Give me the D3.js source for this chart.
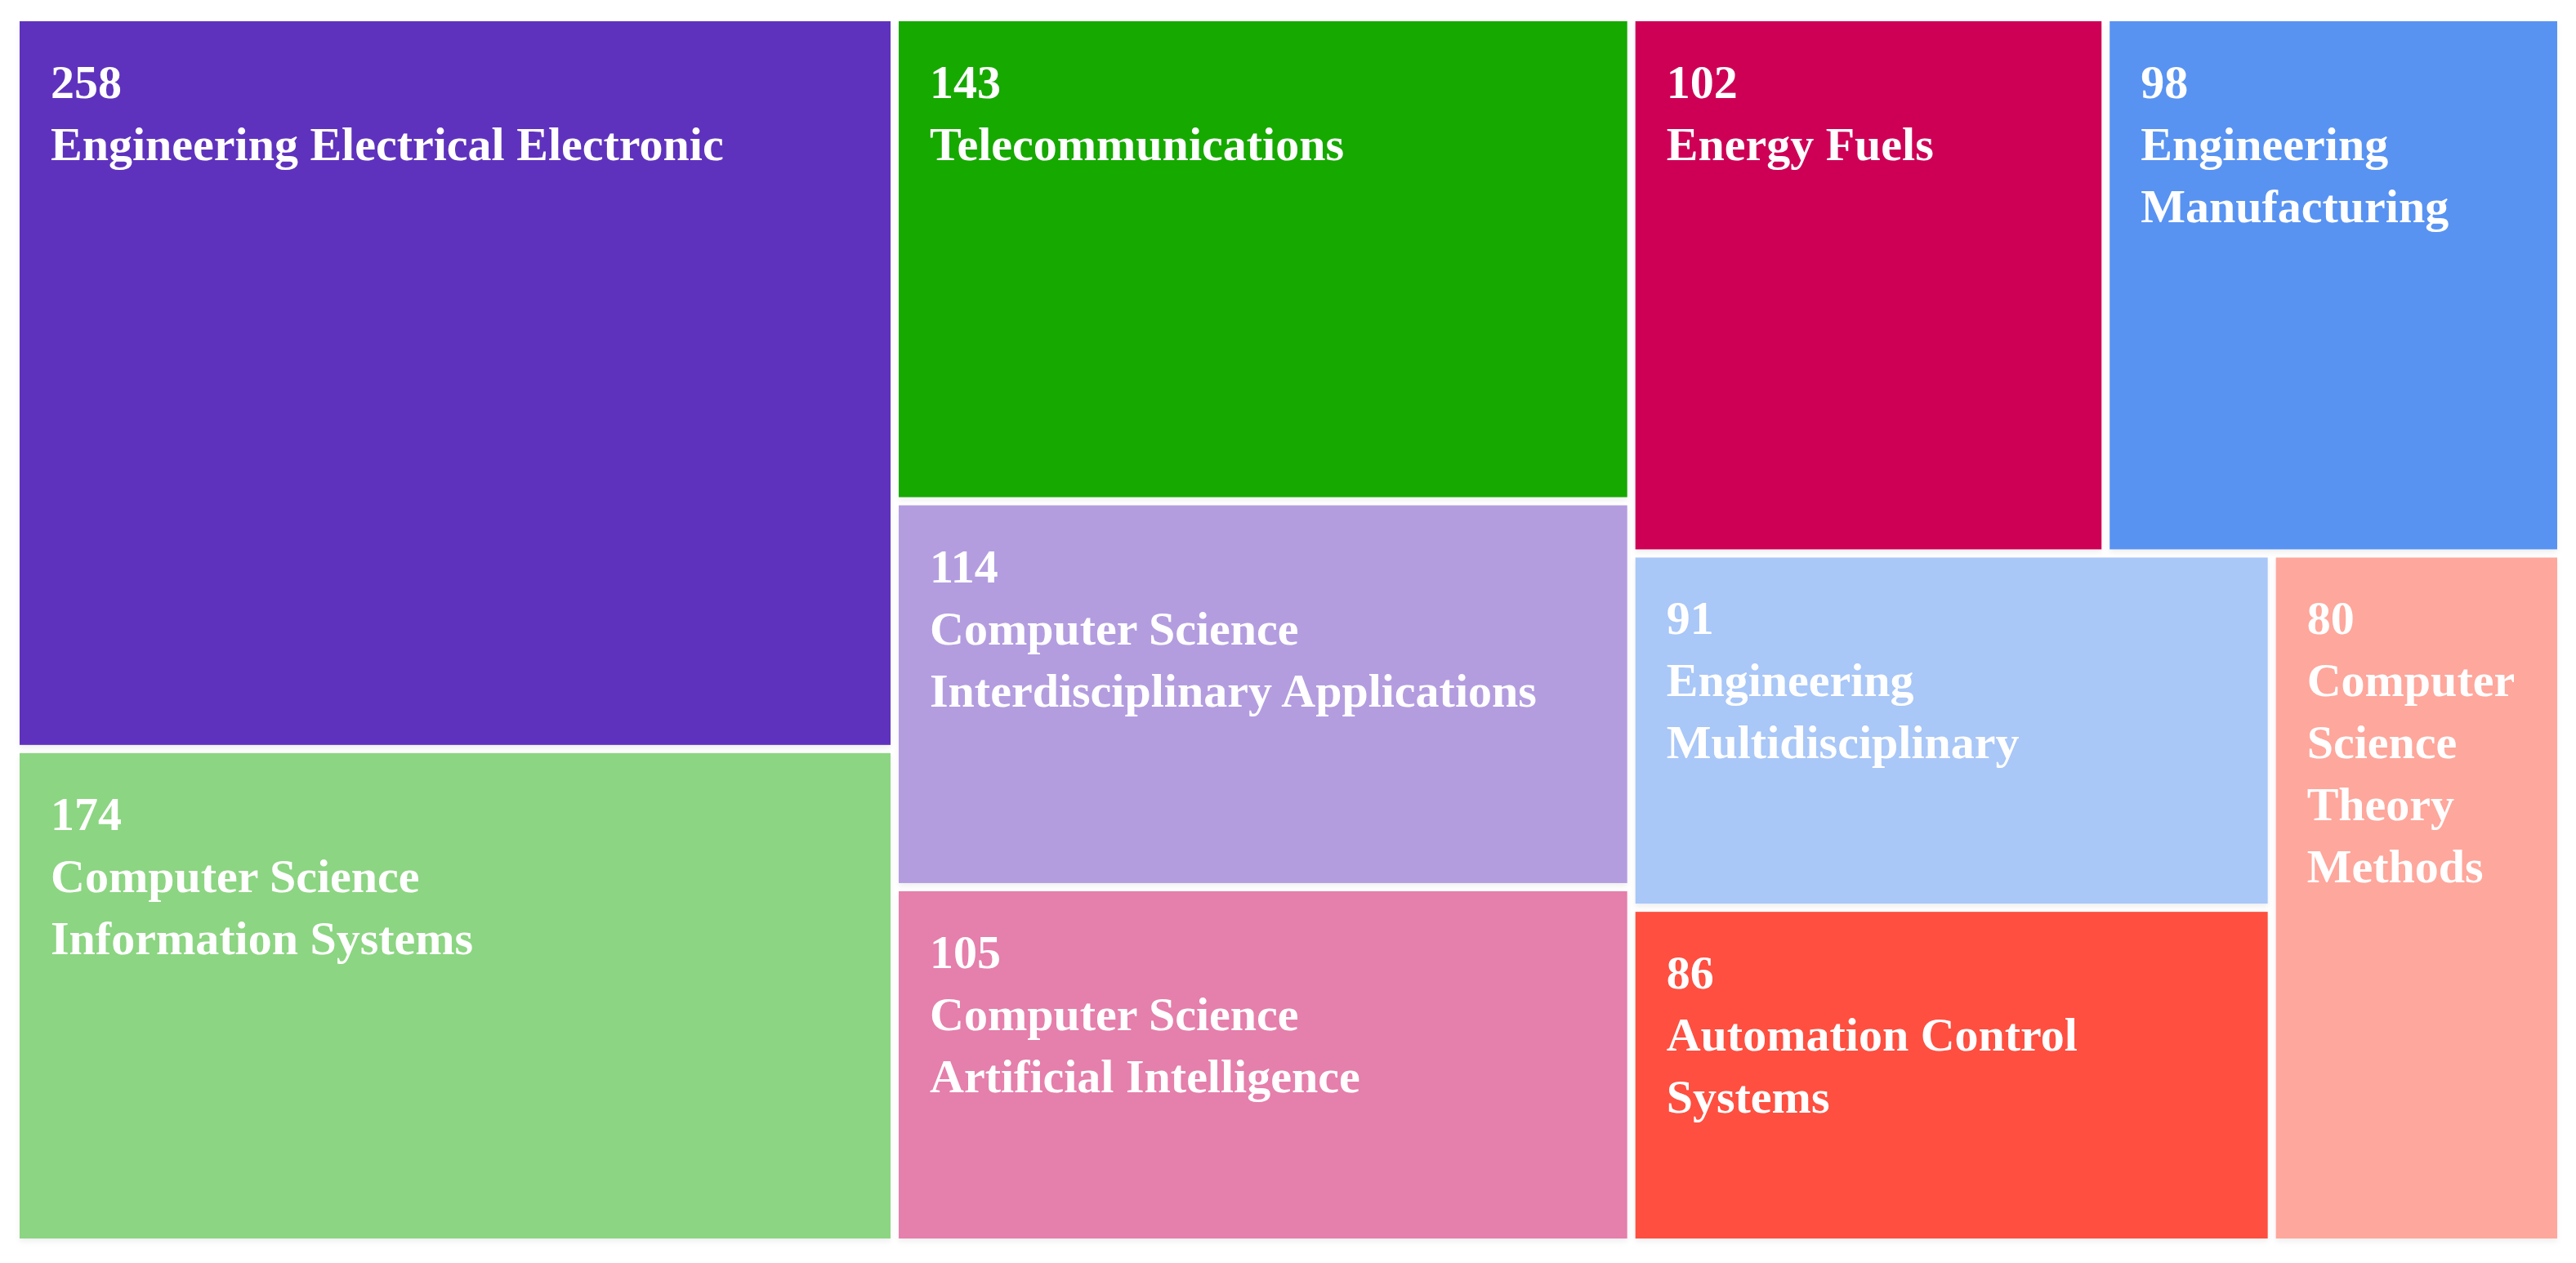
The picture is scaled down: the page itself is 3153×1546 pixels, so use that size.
<!DOCTYPE html>
<html>
<head>
<meta charset="utf-8">
<script src="https://cdn.jsdelivr.net/npm/d3@7"></script>
<style>
    body { margin: 0; background: #ffffff; }
    text { font-family: "Palatino Linotype", "Book Antiqua", Palatino, "Liberation Serif", serif; font-weight: bold; fill: #ffffff; }
</style>
</head>
<body>
<div id="chart"></div>
<script>
const width = 3153
const height = 1546
const margin = {
    top: 26,
    bottom: 30,
    right: 23,
    left: 24,
}

// categories (line breaks as in the picture), counts and fill colours
const categories = [
    "Engineering Electrical Electronic",
    "Computer Science\nInformation Systems",
    "Telecommunications",
    "Computer Science\nInterdisciplinary Applications",
    "Computer Science\nArtificial Intelligence",
    "Energy Fuels",
    "Engineering\nManufacturing",
    "Engineering\nMultidisciplinary",
    "Automation Control\nSystems",
    "Computer\nScience\nTheory\nMethods",
]
const counts = [258, 174, 143, 114, 105, 102, 98, 91, 86, 80]
const colors = [
    "#5e32bd", "#8cd582", "#14a905", "#b39ddf", "#e57fac",
    "#cd0056", "#5993f2", "#a9c7f7", "#fe4f40", "#fea79c",
]

const svg = d3.select("div#chart").append("svg").attr("width", width).attr("height", height)

const defs = svg.append("defs")
defs.append("filter").attr("id", "shadow")
    .attr("x", "-2%").attr("y", "-2%").attr("width", "104%").attr("height", "106%")
    .append("feDropShadow")
    .attr("dx", 0).attr("dy", 4).attr("stdDeviation", 3)
    .attr("flood-color", "#000").attr("flood-opacity", 0.06)

const elementGroup = svg.append("g").attr("class", "elementGroup")
    .attr("transform", `translate(${margin.left}, ${margin.top})`)

const data = categories.map((c, i) => ({ name: c, value: counts[i], color: colors[i] }))

const root = d3.hierarchy({ children: data })
    .sum(d => d.value || 0)
    .sort((a, b) => b.value - a.value)

d3.treemap()
    .tile(d3.treemapSquarify)
    .size([width - margin.left - margin.right, height - margin.top - margin.bottom])
    .paddingInner(10)(root)

const cell = elementGroup.selectAll("g.cell").data(root.leaves())
    .enter()
    .append("g")
    .attr("class", "cell")
    .attr("transform", d => `translate(${d.x0}, ${d.y0})`)

cell.append("rect")
    .attr("width", d => d.x1 - d.x0)
    .attr("height", d => d.y1 - d.y0)
    .attr("fill", d => d.data.color)
    .attr("filter", "url(#shadow)")

const labelX = 38
const firstLine = 94
const lineHeight = 76

const label = cell.append("text")
    .attr("font-size", 58)

label.selectAll("tspan")
    .data(d => [String(d.data.value)].concat(d.data.name.split("\n")))
    .enter()
    .append("tspan")
    .attr("x", labelX)
    .attr("y", (t, i) => firstLine + i * lineHeight)
    .text(t => t)
</script>
</body>
</html>
